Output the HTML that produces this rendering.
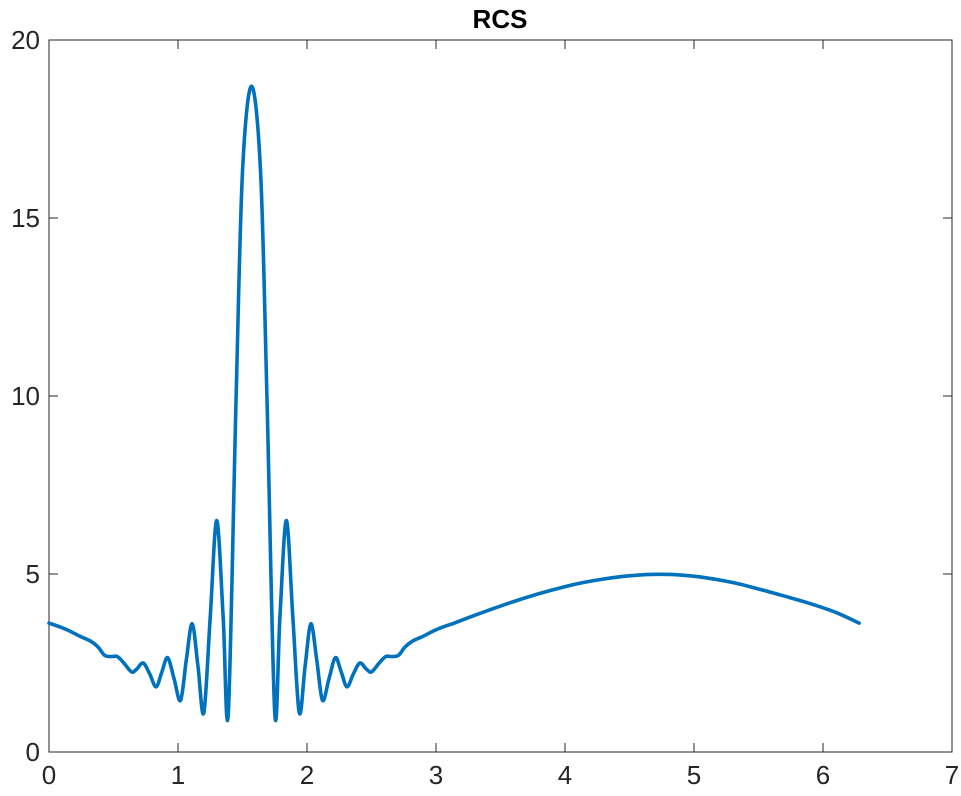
<!DOCTYPE html>
<html><head><meta charset="utf-8"><style>
html,body{margin:0;padding:0;background:#fff;}
svg{display:block;font-family:"Liberation Sans",Arial,sans-serif;}
</style></head><body>
<svg id="chart" width="961" height="796" viewBox="0 0 961 796" xmlns="http://www.w3.org/2000/svg">
<rect x="0" y="0" width="961" height="796" fill="#fff"/>
<text x="500" y="28" text-anchor="middle" font-size="26" font-weight="bold" fill="#000">RCS</text>
<g id="axes"></g>
<path id="series" fill="none" stroke="#0072BD" stroke-width="3.6" stroke-linejoin="round" stroke-linecap="round"/>
</svg>
<script>
const xTicks = [0,1,2,3,4,5,6,7];
const yTicks = [0,5,10,15,20];
const xValues = [0,0.08,0.16,0.24,0.32,0.38,0.43,0.48,0.53,0.58,0.64,0.68,0.73,0.78,0.83,0.875,0.92,0.97,1.02,1.065,1.11,1.155,1.20,1.25,1.30,1.35,1.39,1.45,1.50,1.57,1.64,1.69,1.75,1.79,1.84,1.89,1.94,1.985,2.03,2.075,2.12,2.17,2.22,2.265,2.31,2.36,2.41,2.46,2.50,2.56,2.61,2.66,2.71,2.76,2.82,2.90,2.98,3.06,3.14,3.3,3.5,3.7,3.9,4.1,4.3,4.5,4.71,4.9,5.1,5.3,5.5,5.7,5.9,6.1,6.28];
const yValues = [3.62,3.52,3.40,3.25,3.12,2.95,2.72,2.68,2.68,2.50,2.25,2.33,2.50,2.20,1.83,2.25,2.65,2.05,1.45,2.6,3.6,2.4,1.1,3.8,6.5,3.8,1.1,9.9,16.3,18.7,16.3,9.9,1.1,3.8,6.5,3.8,1.1,2.4,3.6,2.6,1.45,2.05,2.65,2.25,1.83,2.20,2.50,2.33,2.25,2.50,2.68,2.68,2.72,2.95,3.12,3.25,3.40,3.52,3.62,3.84,4.10,4.34,4.55,4.73,4.86,4.95,4.99,4.97,4.89,4.76,4.58,4.38,4.17,3.92,3.62];

const L=49,R=952,T=40,B=752, xMin=0,xMax=7,yMin=0,yMax=20;
const sx=v=>L+(v-xMin)/(xMax-xMin)*(R-L);
const sy=v=>B-(v-yMin)/(yMax-yMin)*(B-T);
const NS="http://www.w3.org/2000/svg";
const axes=document.getElementById('axes');
function mk(tag,attrs){const e=document.createElementNS(NS,tag);for(const k in attrs)e.setAttribute(k,attrs[k]);axes.appendChild(e);return e;}

const box=mk('rect',{x:L,y:T,width:R-L,height:B-T,fill:'none',stroke:'#262626','stroke-width':1});



xTicks.forEach(t=>{
  const x=sx(t);
  const a=mk('line',{x1:x,y1:B,x2:x,y2:B-9,stroke:'#262626'});
  
  
  const b=mk('line',{x1:x,y1:T,x2:x,y2:T+9,stroke:'#262626'});
  
  
  const lb=mk('text',{x:x,y:B+32,'text-anchor':'middle','font-size':26,fill:'#262626'});
  lb.textContent=t;
  
  
});
yTicks.forEach(t=>{
  const y=sy(t);
  const a=mk('line',{x1:L,y1:y,x2:L+9,y2:y,stroke:'#262626'});
  
  
  const b=mk('line',{x1:R,y1:y,x2:R-9,y2:y,stroke:'#262626'});
  
  
  const lb=mk('text',{x:L-9,y:y+9,'text-anchor':'end','font-size':26,fill:'#262626'});
  lb.textContent=t;
  
  
});

const pts=xValues.map((v,i)=>[sx(v),sy(yValues[i])]);
let d='M'+pts[0][0].toFixed(2)+','+pts[0][1].toFixed(2);
for(let i=0;i<pts.length-1;i++){
  const p0=pts[i-1]||pts[i],p1=pts[i],p2=pts[i+1],p3=pts[i+2]||p2;
  const k=1/6;
  const c1=[p1[0]+(p2[0]-p0[0])*k,p1[1]+(p2[1]-p0[1])*k];
  const c2=[p2[0]-(p3[0]-p1[0])*k,p2[1]-(p3[1]-p1[1])*k];
  d+=' C'+c1.map(n=>n.toFixed(2))+' '+c2.map(n=>n.toFixed(2))+' '+p2.map(n=>n.toFixed(2));
}
document.getElementById('series').setAttribute('d',d);
</script>
</body></html>
